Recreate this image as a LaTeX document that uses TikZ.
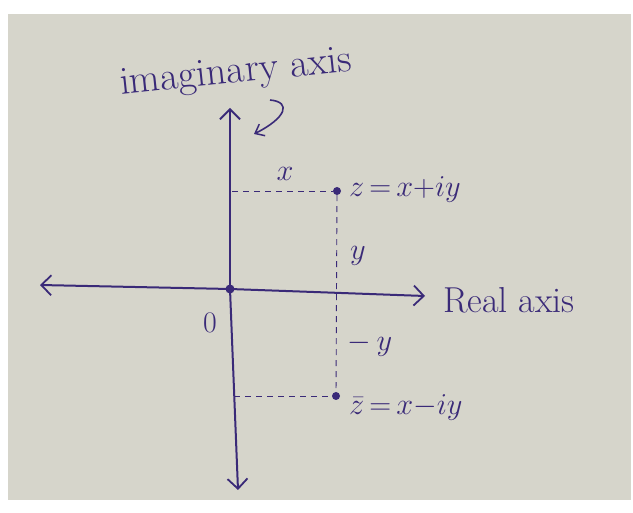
\documentclass[tikz,border=0pt]{standalone}
\usetikzlibrary{arrows.meta}
\definecolor{ink}{RGB}{58,42,120}
\definecolor{paper}{RGB}{214,213,203}
\newcommand{\hwmath}[1]{\scalebox{1.22}{$#1$}}
\tikzset{
  axis/.style={ink, line width=2pt, -{Straight Barb[length=10pt,width=20pt,line width=1.8pt]}},
  guide/.style={ink, line width=0.9pt, dash pattern=on 6pt off 5pt},
  lbl/.style={ink, font=\fontsize{24.88}{28}\selectfont, inner sep=1pt},
  pt/.style={circle, fill=ink, inner sep=0pt, minimum size=8pt}
}
\begin{document}
\begin{tikzpicture}[x=1pt,y=-1pt]
\useasboundingbox (0,0) rectangle (633,513);
\fill[white] (0,0) rectangle (633,513);
\fill[paper] (8,14) rectangle (631,500);
% axis points
\coordinate (O) at (230,289);
\coordinate (Ltip) at (40,285);
\coordinate (Rtip) at (425,296);
\coordinate (Ttip) at (230,108);
\coordinate (Btip) at (238,490);
\coordinate (Ya) at (232,191);
\coordinate (Yb) at (234,396);
\node[pt] (Z) at (337,191) {};
\node[pt] (Zb) at (336,396) {};
\node[pt, minimum size=9pt] (Odot) at (O) {};
% axes
\draw[axis] (O) -- (Ltip);
\draw[axis] (O) -- (Rtip);
\draw[axis] (O) -- (Ttip);
\draw[axis] (O) -- (Btip);
% guides
\draw[guide] (Ya) -- (Z);
\draw[guide] (Z) -- (Zb);
\draw[guide] (Yb) -- (Zb);
% labels
\node[lbl, rotate=6] (imag) at (236,74) {\scalebox{1.6}{imaginary axis}};
\node[lbl] (real) at (509,300) {\scalebox{1.45}{Real axis}};
\node[lbl] (zero) at (210,323) {\scalebox{1.2}{0}};
\node[lbl] (xl) at (285,174) {\hwmath{x}};
\node[lbl, anchor=west] (zl) at (348,190) {\hwmath{z\,{=}\,x{+}iy}};
\node[lbl] (yl) at (358,256) {\hwmath{y}};
\node[lbl] (myl) at (370,345) {\hwmath{{-}\,y}};
\node[lbl, anchor=west] (zbl) at (348,408) {\hwmath{\bar z\,{=}\,x{-}iy}};
% curly pointer
\coordinate (cs) at (270,100);
\coordinate (ce) at (254,134);
\draw[ink, line width=1.6pt, -{Straight Barb[length=8pt,width=13pt,line width=1.5pt]}]
  (cs) .. controls (292,102) and (286,118) .. (ce);
\end{tikzpicture}
\end{document}
